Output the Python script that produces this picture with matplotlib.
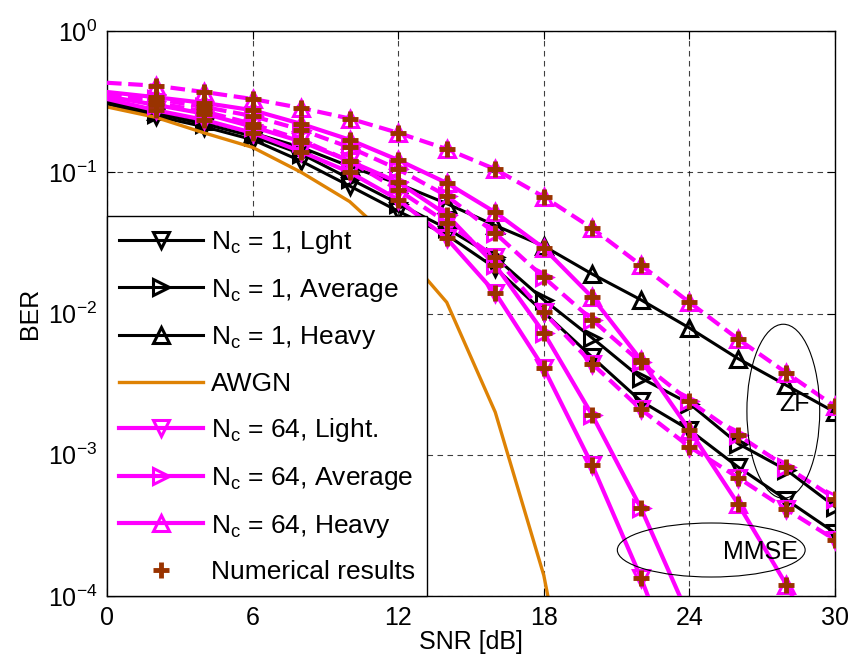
import numpy as np
import matplotlib
matplotlib.use("Agg")
import matplotlib.pyplot as plt
from matplotlib.lines import Line2D
from matplotlib.patches import Ellipse
from matplotlib.ticker import NullLocator

plt.rcParams['font.family'] = ['Liberation Sans', 'DejaVu Sans']
plt.rcParams['mathtext.default'] = 'regular'

# SNR grid, 2 dB steps
snr = np.arange(0, 31, 2)

# N_c = 1 (black)
ber_nc1_light = [0.305, 0.25, 0.21, 0.17, 0.12, 0.08, 0.053, 0.036, 0.021, 0.0102,
                 0.0049, 0.0024, 0.0015, 8.2e-4, 4.8e-4, 2.8e-4]
ber_nc1_avg = [0.31, 0.26, 0.22, 0.18, 0.135, 0.09, 0.060, 0.040, 0.025, 0.0125,
               0.0067, 0.0035, 0.0023, 0.0012, 7.8e-4, 4.3e-4]
ber_nc1_heavy = [0.315, 0.27, 0.23, 0.19, 0.15, 0.11, 0.083, 0.060, 0.042, 0.030,
                 0.019, 0.0125, 0.0079, 0.0048, 0.0031, 0.0020]

# AWGN reference
ber_awgn = [0.29, 0.245, 0.19, 0.15, 0.10, 0.062, 0.030, 0.012, 0.002, 1.4e-4, 2.5e-6]

# N_c = 64, MMSE (solid magenta)
ber_mmse_light = [0.33, 0.275, 0.235, 0.19, 0.14, 0.10, 0.064, 0.034, 0.014, 0.0041,
                  8.4e-4, 1.35e-4, 1.7e-5]
ber_mmse_avg = [0.345, 0.30, 0.26, 0.21, 0.165, 0.12, 0.085, 0.050, 0.022, 0.0073,
                0.0019, 4.2e-4, 7e-5]
ber_mmse_heavy = [0.37, 0.34, 0.31, 0.275, 0.22, 0.17, 0.122, 0.084, 0.052, 0.029,
                  0.013, 0.0047, 0.0015, 4.5e-4, 1.2e-4, 2.6e-5]

# N_c = 64, ZF (dashed magenta)
ber_zf_light = [0.355, 0.31, 0.27, 0.22, 0.17, 0.12, 0.075, 0.044, 0.025, 0.0102,
                0.0044, 0.0021, 0.00114, 6.9e-4, 4.1e-4, 2.5e-4]
ber_zf_avg = [0.365, 0.33, 0.29, 0.25, 0.20, 0.15, 0.105, 0.068, 0.037, 0.018,
              0.009, 0.0045, 0.0024, 0.00138, 8.2e-4, 4.9e-4]
ber_zf_heavy = [0.43, 0.41, 0.37, 0.33, 0.285, 0.24, 0.19, 0.146, 0.105, 0.067,
                0.040, 0.022, 0.012, 0.0066, 0.0038, 0.0022]

MAG = '#FF00FF'
BROWN = '#993300'
ORANGE = '#DE8204'
FS = 18
FS_LEG = 19

fig = plt.figure(figsize=(8.53, 6.71), dpi=100)
ax = fig.add_axes([107 / 853, 75 / 671, 728 / 853, 565 / 671])
ax.set_yscale('log')

def curve(y, color, marker, ls='-', lw=2.2, z=2):
    x = snr[:len(y)]
    ax.plot(x, y, color=color, ls=ls, lw=lw, marker=marker, ms=12,
            mfc='none', mew=2.2, markevery=slice(1, None), zorder=z)

curve(ber_nc1_light, 'k', 'v')
curve(ber_nc1_avg, 'k', '>')
curve(ber_nc1_heavy, 'k', '^')
ax.plot(snr[:len(ber_awgn)], ber_awgn, color=ORANGE, lw=2.4, zorder=2)

for y, m in [(ber_mmse_light, 'v'), (ber_mmse_avg, '>'), (ber_mmse_heavy, '^')]:
    curve(y, MAG, m, lw=3, z=3)
for y, m in [(ber_zf_light, 'v'), (ber_zf_avg, '>'), (ber_zf_heavy, '^')]:
    curve(y, MAG, m, ls=(0, (3.5, 1.6)), lw=3, z=4)

# numerical results on every N_c = 64 curve
for y in [ber_mmse_light, ber_mmse_avg, ber_mmse_heavy,
          ber_zf_light, ber_zf_avg, ber_zf_heavy]:
    ax.plot(snr[1:len(y)], y[1:], ls='none', marker='+', ms=11, mew=3.5,
            color=BROWN, zorder=5)

ax.set_xlim(0, 30)
ax.set_ylim(1e-4, 1)
ax.set_xticks([0, 6, 12, 18, 24, 30])
ax.set_yticks([1e-4, 1e-3, 1e-2, 1e-1, 1])
ax.set_yticklabels(['$10^{-4}$', '$10^{-3}$', '$10^{-2}$', '$10^{-1}$', '$10^{0}$'])
ax.yaxis.set_minor_locator(NullLocator())
ax.tick_params(direction='in', length=6, width=0.8, top=True, right=True,
               labelsize=FS, pad=7)
ax.grid(True, which='major', color='k', ls=(0, (5, 4)), lw=0.8, alpha=0.75)
ax.set_axisbelow(True)
for s in ax.spines.values():
    s.set_linewidth(1.0)
ax.set_xlabel('SNR [dB]', fontsize=FS, labelpad=0)
ax.set_ylabel('BER', fontsize=FS, labelpad=4)

# detector annotations
ax.add_patch(Ellipse((0.929, 0.327), 0.100, 0.308, transform=ax.transAxes,
                     fill=False, lw=0.8, color='k', zorder=6))
ax.text(0.945, 0.340, 'ZF', transform=ax.transAxes, fontsize=FS,
        ha='center', va='center', zorder=6)
ax.add_patch(Ellipse((0.830, 0.0814), 0.258, 0.0956, transform=ax.transAxes,
                     fill=False, lw=0.8, color='k', zorder=6))
ax.text(0.897, 0.078, 'MMSE', transform=ax.transAxes, fontsize=FS,
        ha='center', va='center', zorder=6)

handles = [
    Line2D([], [], color='k', lw=2.2, marker='v', ms=12, mfc='none', mew=2.2),
    Line2D([], [], color='k', lw=2.2, marker='>', ms=12, mfc='none', mew=2.2),
    Line2D([], [], color='k', lw=2.2, marker='^', ms=12, mfc='none', mew=2.2),
    Line2D([], [], color=ORANGE, lw=2.4),
    Line2D([], [], color=MAG, lw=3, marker='v', ms=12, mfc='none', mew=2.2),
    Line2D([], [], color=MAG, lw=3, marker='>', ms=12, mfc='none', mew=2.2),
    Line2D([], [], color=MAG, lw=3, marker='^', ms=12, mfc='none', mew=2.2),
    Line2D([], [], ls='none', marker='+', ms=11, mew=3.5, color=BROWN),
]
labels = ['N$_c$ = 1, Lght', 'N$_c$ = 1, Average', 'N$_c$ = 1, Heavy', 'AWGN',
          'N$_c$ = 64, Light.', 'N$_c$ = 64, Average', 'N$_c$ = 64, Heavy',
          'Numerical results']
leg = ax.legend(handles, labels, loc='lower left', bbox_to_anchor=(0, 0),
                borderaxespad=0, fontsize=FS_LEG, handlelength=3.2, handletextpad=0.3,
                labelspacing=0.78, borderpad=0.45, fancybox=False, framealpha=1)
leg.get_frame().set_edgecolor('k')
leg.get_frame().set_linewidth(1.0)
leg.set_zorder(10)

fig.savefig('out.png', dpi=100)
